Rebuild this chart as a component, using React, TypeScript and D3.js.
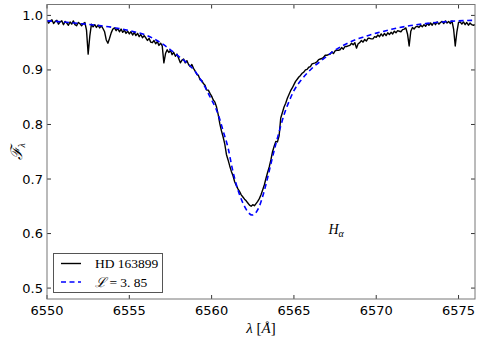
import * as d3 from 'd3'

const W = 480, H = 340
const M = { top: 4.5, right: 5, bottom: 41, left: 47 }

// observed spectrum HD 163899, sampled every 0.1 Å from 6550.0
const OBS_START = 6550
const OBS_STEP = 0.1
const obsFlux = [
  0.991, 0.986, 0.990, 0.992, 0.985, 0.989, 0.991, 0.984, 0.988, 0.990,
  0.983, 0.989, 0.986, 0.982, 0.988, 0.984, 0.990, 0.983, 0.981, 0.987,
  0.985, 0.981, 0.985, 0.987, 0.973, 0.929, 0.962, 0.984, 0.979, 0.983,
  0.978, 0.982, 0.977, 0.981, 0.976, 0.970, 0.955, 0.949, 0.958, 0.968,
  0.975, 0.977, 0.972, 0.976, 0.970, 0.975, 0.969, 0.973, 0.967, 0.971,
  0.966, 0.970, 0.964, 0.969, 0.963, 0.967, 0.961, 0.965, 0.959, 0.963,
  0.959, 0.954, 0.958, 0.951, 0.950, 0.954, 0.948, 0.952, 0.945, 0.949,
  0.944, 0.913, 0.930, 0.937, 0.932, 0.936, 0.928, 0.932, 0.925, 0.929,
  0.921, 0.913, 0.918, 0.920, 0.913, 0.917, 0.910, 0.906, 0.910, 0.903,
  0.898, 0.892, 0.890, 0.882, 0.881, 0.875, 0.872, 0.863, 0.863, 0.857,
  0.852, 0.845, 0.841, 0.832, 0.818, 0.801, 0.788, 0.777, 0.764, 0.745,
  0.735, 0.724, 0.714, 0.706, 0.695, 0.688, 0.682, 0.677, 0.671, 0.667,
  0.663, 0.660, 0.656, 0.652, 0.650, 0.653, 0.651, 0.655, 0.659, 0.664,
  0.671, 0.680, 0.689, 0.701, 0.712, 0.722, 0.735, 0.750, 0.760, 0.769,
  0.768, 0.779, 0.812, 0.822, 0.832, 0.839, 0.848, 0.855, 0.862, 0.867,
  0.873, 0.879, 0.883, 0.887, 0.890, 0.894, 0.896, 0.900, 0.901, 0.905,
  0.906, 0.911, 0.912, 0.913, 0.915, 0.919, 0.920, 0.921, 0.923, 0.927,
  0.927, 0.928, 0.929, 0.933, 0.930, 0.935, 0.936, 0.936, 0.937, 0.941,
  0.938, 0.943, 0.943, 0.944, 0.945, 0.949, 0.946, 0.950, 0.940, 0.948,
  0.950, 0.954, 0.951, 0.956, 0.953, 0.958, 0.958, 0.957, 0.957, 0.961,
  0.960, 0.964, 0.961, 0.966, 0.962, 0.967, 0.963, 0.968, 0.965, 0.969,
  0.966, 0.971, 0.968, 0.972, 0.971, 0.970, 0.974, 0.975, 0.977, 0.966,
  0.944, 0.971, 0.978, 0.975, 0.979, 0.980, 0.978, 0.982, 0.979, 0.983,
  0.980, 0.985, 0.982, 0.986, 0.982, 0.987, 0.983, 0.988, 0.984, 0.987,
  0.989, 0.985, 0.990, 0.986, 0.989, 0.985, 0.990, 0.975, 0.944, 0.970,
  0.987, 0.988, 0.984, 0.988, 0.983, 0.987, 0.982, 0.986, 0.983, 0.982,
  0.983,
]

// model profile, log L = 3.85
const modelWave = [
  6550.0, 6551.0, 6552.0, 6553.0, 6554.0, 6555.0, 6556.0, 6556.5, 6557.0, 6557.5,
  6558.0, 6558.5, 6559.0, 6559.5, 6560.0, 6560.25, 6560.5, 6560.75, 6561.0, 6561.25,
  6561.5, 6561.75, 6562.0, 6562.25, 6562.45, 6562.65, 6562.9, 6563.15, 6563.4, 6563.65,
  6563.9, 6564.15, 6564.4, 6564.7, 6565.0, 6565.4, 6565.8, 6566.2, 6566.7, 6567.2,
  6567.7, 6568.2, 6568.7, 6569.2, 6569.7, 6570.2, 6571.0, 6572.0, 6573.0, 6574.0,
  6575.0, 6576.0,
]
const modelFlux = [
  0.990, 0.988, 0.985, 0.982, 0.978, 0.972, 0.964, 0.957, 0.948, 0.937,
  0.925, 0.913, 0.897, 0.874, 0.845, 0.830, 0.809, 0.783, 0.757, 0.720,
  0.690, 0.667, 0.650, 0.638, 0.634, 0.637, 0.650, 0.673, 0.702, 0.734,
  0.764, 0.792, 0.818, 0.842, 0.862, 0.880, 0.894, 0.906, 0.918, 0.930,
  0.940, 0.948, 0.955, 0.960, 0.965, 0.969, 0.975, 0.981, 0.985, 0.988,
  0.990, 0.991,
]

const xTicks = [6550, 6555, 6560, 6565, 6570, 6575]
const yTicks = [0.5, 0.6, 0.7, 0.8, 0.9, 1.0]

export default function App() {
  const x = d3.scaleLinear().domain([6550, 6576]).range([M.left, W - M.right])
  const y = d3.scaleLinear().domain([0.48, 1.02]).range([H - M.bottom, M.top])

  const obs: [number, number][] = obsFlux.map((f, i) => [OBS_START + i * OBS_STEP, f])
  const model: [number, number][] = modelWave.map((w, i) => [w, modelFlux[i]])
  const line = d3.line<[number, number]>().x(d => x(d[0])).y(d => y(d[1]))
  const smooth = d3.line<[number, number]>().x(d => x(d[0])).y(d => y(d[1])).curve(d3.curveMonotoneX)

  const x0 = M.left, x1 = W - M.right, y0 = M.top, y1 = H - M.bottom
  const tick = 4
  const font = 'DejaVu Sans, sans-serif'
  const serif = 'Liberation Serif, DejaVu Serif, serif'

  return (
    <svg width={W} height={H} style={{ position: 'absolute', left: 0, top: 0, background: '#fff' }}>
      <defs>
        <clipPath id="plot">
          <rect x={x0} y={y0} width={x1 - x0} height={y1 - y0} />
        </clipPath>
      </defs>
      <g clipPath="url(#plot)">
        <path d={line(obs) ?? ''} fill="none" stroke="#000" strokeWidth={1.4} strokeLinejoin="round" />
        <path d={smooth(model) ?? ''} fill="none" stroke="#0000ff" strokeWidth={1.6} strokeDasharray="5,3.5" />
      </g>

      {/* ticks on all four sides, pointing inward */}
      {xTicks.map(t => (
        <g key={'x' + t}>
          <line x1={x(t)} x2={x(t)} y1={y1} y2={y1 - tick} stroke="#000" strokeWidth={0.8} />
          <line x1={x(t)} x2={x(t)} y1={y0} y2={y0 + tick} stroke="#000" strokeWidth={0.8} />
          <text x={x(t)} y={y1 + 16} textAnchor="middle" fontFamily={font} fontSize={13}>{t}</text>
        </g>
      ))}
      {yTicks.map(t => (
        <g key={'y' + t}>
          <line x1={x0} x2={x0 + tick} y1={y(t)} y2={y(t)} stroke="#000" strokeWidth={0.8} />
          <line x1={x1} x2={x1 - tick} y1={y(t)} y2={y(t)} stroke="#000" strokeWidth={0.8} />
          <text x={x0 - 4} y={y(t) + 4.5} textAnchor="end" fontFamily={font} fontSize={13}>{t.toFixed(1)}</text>
        </g>
      ))}
      <rect x={x0} y={y0} width={x1 - x0} height={y1 - y0} fill="none" stroke="#777" strokeWidth={1} />

      {/* axis labels */}
      <text x={(x0 + x1) / 2} y={H - 7} textAnchor="middle" fontFamily={serif} fontSize={15} fontStyle="italic">
        λ <tspan fontStyle="normal">[</tspan>Å<tspan fontStyle="normal">]</tspan>
      </text>
      <text transform={`translate(22,${(y0 + y1) / 2}) rotate(-90)`} textAnchor="middle" fontFamily={serif} fontSize={16} fontStyle="italic">
        ℱ<tspan fontSize={10} dy={3}>λ</tspan>
      </text>

      {/* annotation */}
      <text x={x(6567.1)} y={y(0.6)} fontFamily={serif} fontSize={14} fontStyle="italic">
        H<tspan fontSize={10} dy={3}>α</tspan>
      </text>

      {/* legend */}
      <g>
        <rect x={53.5} y={253.5} width={109} height={39} fill="#fff" stroke="#555" strokeWidth={1} />
        <line x1={61} x2={81} y1={263.5} y2={263.5} stroke="#000" strokeWidth={1.4} />
        <line x1={61} x2={81} y1={282} y2={282} stroke="#0000ff" strokeWidth={1.6} strokeDasharray="5,3.5" />
        <text x={95} y={268} fontFamily={serif} fontSize={13.5}>HD 163899</text>
        <text x={95} y={286.5} fontFamily={serif} fontSize={13.5}>
          <tspan fontStyle="italic">ℒ</tspan> = 3. 85
        </text>
      </g>
    </svg>
  )
}
